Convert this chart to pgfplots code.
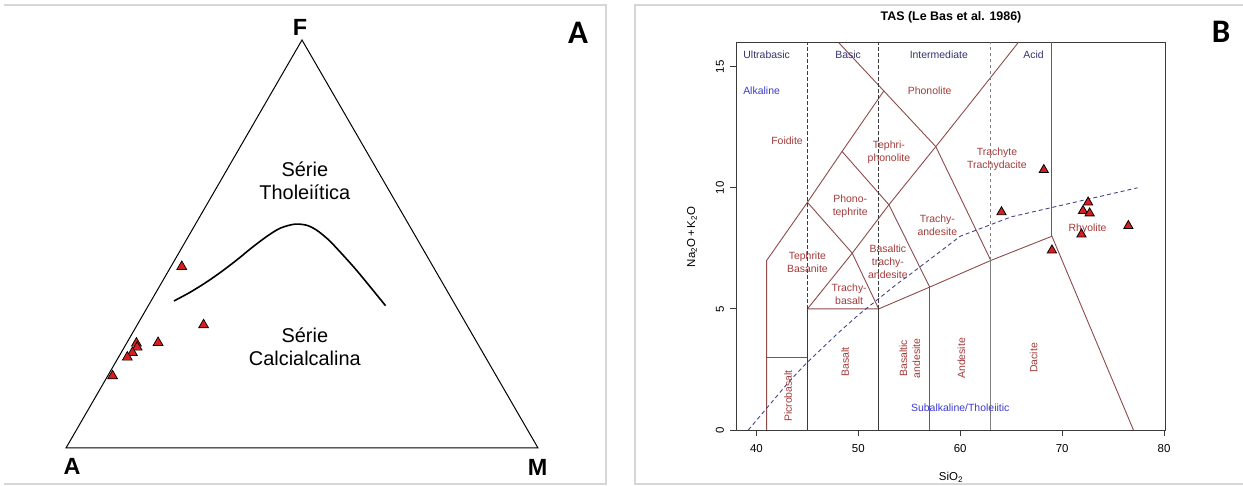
\documentclass[border=0pt]{standalone}
\usepackage{fontspec}
\setmainfont{Liberation Sans}
\newfontfamily\panelfont{Carlito}
\usepackage{pgfplots}
\usepackage{pgfplotstable}
\pgfplotsset{compat=1.18}
\definecolor{framegray}{HTML}{D6D6D6}
\definecolor{fieldline}{HTML}{8E4B4B}
\definecolor{fieldtext}{HTML}{A33B3B}
\definecolor{grouptext}{HTML}{34346E}
\definecolor{alkblue}{HTML}{3B3BD0}
\definecolor{alkdash}{HTML}{44448C}
\definecolor{boxgray}{HTML}{3A3A3A}
\definecolor{markred}{HTML}{D81E1E}
\newcommand\fs{\fontsize{10.5}{13}\selectfont}

% AFM diagram, Cartesian position in the triangle A(0,0) M(100,0) F(50,86.6)
\pgfplotstableread{
x y
24.53 38.49
29.15 26.11
14.92 22.23
19.51 22.36
15.08 21.38
14.07 20.23
12.99 19.26
9.87 15.29
}\afmdata
\pgfplotstableread{
x y
22.86 31.2
26.2 33.0
29.6 35.1
32.9 37.4
36.3 40.0
39.6 42.7
42.96 45.2
45.5 46.7
48.4 47.5
50.9 47.3
53.0 46.3
55.5 44.3
58.0 41.7
61.4 37.9
64.7 33.9
67.7 30.2
}\afmcurve
% TAS samples
\pgfplotstableread{
x y
68.2 10.74
64.05 9.0
72.55 9.4
72.05 9.05
72.7 8.95
76.5 8.43
71.9 8.08
69.0 7.42
}\tasdata
\pgfplotstableread{
x y
39.2 0
40 0.4
43.2 2
45 2.8
48 4
50 4.75
53.7 6
55 6.4
60 8
65 8.8
77.4 10
}\alkdata

\begin{document}
\begin{tikzpicture}[x=1bp,y=1bp]
\fill[white] (0,0) rectangle (1243,486);
\draw[framegray, line width=1.4bp] (4,481) -- (606,481) -- (606,2) -- (4,2);
\draw[framegray, line width=1.4bp] (1243,481) -- (635,481) -- (635,2) -- (1243,2);

% ---------------- Panel A ----------------
\begin{axis}[at={(66bp,38bp)}, anchor=south west, scale only axis, width=472bp, height=408bp,
  xmin=0, xmax=100, ymin=0, ymax=86.6, axis lines=none, clip=false]
\addplot[black, line width=1bp] coordinates {(50,0) (100,0) (50,86.6) (0,0) (50,0)};
\addplot[black, line width=1.6bp, smooth] table {\afmcurve};
\addplot[only marks, mark=triangle*, mark size=5.7bp, mark options={fill=markred, draw=black, line width=0.7bp}] table {\afmdata};
\node[font=\fontsize{20}{23}\selectfont, align=center] at (axis cs:50.6,56.8) {Série\\Tholeiítica};
\node[font=\fontsize{20}{23}\selectfont, align=center] at (axis cs:50.6,21.5) {Série\\Calcialcalina};
\node[font=\fontsize{23.5}{26}\selectfont\bfseries] at (axis cs:49.6,89.2) {F};
\node[font=\fontsize{23.5}{26}\selectfont\bfseries] at (axis cs:1.3,-4.0) {A};
\node[font=\fontsize{23.5}{26}\selectfont\bfseries] at (axis cs:99.9,-4.2) {M};
\end{axis}
\node[font=\panelfont\fontsize{33}{35}\selectfont\bfseries] at (578,453) {A};

% ---------------- Panel B ----------------
\begin{axis}[at={(736.5bp,56bp)}, anchor=south west, scale only axis, width=428.5bp, height=387.5bp,
  xmin=38.04, xmax=80.1, ymin=0, ymax=16,
  axis line style={boxgray, line width=0.8bp},
  tick align=outside, major tick length=6.5bp,
  xtick={40,50,60,70,80}, ytick={0,5,10,15},
  xtick pos=left, ytick pos=left,
  tick style={boxgray, line width=0.8bp},
  tick label style={font=\fontsize{11.5}{13}\selectfont},
  xticklabel style={yshift=-4bp},
  yticklabel style={rotate=90, anchor=south, yshift=2.5bp},
  /pgf/number format/assume math mode=true,
  clip=false]
% field boundaries
\addplot[fieldline, line width=0.9bp] coordinates {(41,0) (41,7) (45,9.4) (48.4,11.5) (52.5,14)};
\addplot[fieldline, line width=0.9bp] coordinates {(48.06,16) (52.5,14) (57.6,11.7) (63,7) (69,8) (77,0)};
\addplot[fieldline, line width=1.4bp] coordinates {(41,3) (45,3)};
\addplot[fieldline, line width=0.9bp] coordinates {(45,5) (52,5) (57,5.9) (63,7)};
\addplot[fieldline, line width=0.9bp] coordinates {(45,5) (49.4,7.3) (53,9.3) (57.6,11.7) (61,13.5) (65.7,16)};
\addplot[fieldline, line width=0.9bp] coordinates {(45,9.4) (49.4,7.3) (52,5)};
\addplot[fieldline, line width=0.9bp] coordinates {(48.4,11.5) (53,9.3) (57,5.9)};
\addplot[fieldline, line width=0.9bp] coordinates {(57,0) (57,5.9)};
\addplot[fieldline, line width=0.9bp] coordinates {(69,8) (69,16)};
% group boundaries
\addplot[boxgray, line width=0.9bp] coordinates {(45,0) (45,5)};
\addplot[boxgray, line width=0.9bp] coordinates {(52,0) (52,5)};
\addplot[gray, line width=1.3bp] coordinates {(63,0) (63,7)};
\addplot[boxgray, line width=0.9bp, dash pattern=on 3.5bp off 2.5bp] coordinates {(45,5) (45,16)};
\addplot[boxgray, line width=0.9bp, dash pattern=on 3.5bp off 2.5bp] coordinates {(52,5) (52,16)};
\addplot[gray, line width=1bp, dash pattern=on 3.5bp off 2.5bp] coordinates {(63,7) (63,16)};
% alkaline / subalkaline divide
\addplot[alkdash, line width=0.9bp, dash pattern=on 4bp off 3bp] table {\alkdata};
% samples
\addplot[only marks, mark=triangle*, mark size=5.3bp, mark options={fill=markred, draw=black, line width=0.8bp}] table {\tasdata};
% labels
\node[grouptext, font=\fs] at (axis cs:41.0,15.5) {Ultrabasic};
\node[grouptext, font=\fs] at (axis cs:49.0,15.5) {Basic};
\node[grouptext, font=\fs] at (axis cs:57.9,15.5) {Intermediate};
\node[grouptext, font=\fs] at (axis cs:67.2,15.5) {Acid};
\node[alkblue, font=\fs] at (axis cs:40.5,14.0) {Alkaline};
\node[alkblue, font=\fs] at (axis cs:60.0,0.92) {Subalkaline/Tholeiitic};
\node[fieldtext, font=\fs] at (axis cs:57.0,14.0) {Phonolite};
\node[fieldtext, font=\fs] at (axis cs:43.0,11.95) {Foidite};
\node[fieldtext, font=\fs, align=center] at (axis cs:53.0,11.47) {Tephri-\\phonolite};
\node[fieldtext, font=\fs, align=center] at (axis cs:63.6,11.17) {Trachyte\\Trachydacite};
\node[fieldtext, font=\fs, align=center] at (axis cs:49.2,9.24) {Phono-\\tephrite};
\node[fieldtext, font=\fs, align=center] at (axis cs:57.75,8.45) {Trachy-\\andesite};
\node[fieldtext, font=\fs, align=center] at (axis cs:45.0,6.94) {Tephrite\\Basanite};
\node[fieldtext, font=\fs, align=center] at (axis cs:52.9,6.94) {Basaltic\\trachy-\\andesite};
\node[fieldtext, font=\fs, align=center] at (axis cs:49.1,5.61) {Trachy-\\basalt};
\node[fieldtext, font=\fs] at (axis cs:72.5,8.3) {Rhyolite};
\node[fieldtext, font=\fs, rotate=90] at (axis cs:43.1,1.4) {Picrobasalt};
\node[fieldtext, font=\fs, rotate=90] at (axis cs:48.7,2.8) {Basalt};
\node[fieldtext, font=\fs, rotate=90, align=center] at (axis cs:55.05,2.96) {Basaltic\\andesite};
\node[fieldtext, font=\fs, rotate=90] at (axis cs:60.1,2.96) {Andesite};
\node[fieldtext, font=\fs, rotate=90] at (axis cs:67.2,2.98) {Dacite};
\end{axis}
\node[font=\fontsize{12.5}{14}\selectfont\bfseries] at (951,469) {TAS (Le Bas et al. 1986)};
\node[font=\fontsize{11.5}{13}\selectfont] at (951,9) {SiO\textsubscript{2}};
\node[font=\fontsize{11.5}{13}\selectfont, rotate=90] at (692,249) {Na\textsubscript{2}O\,+\,K\textsubscript{2}O};
\node[font=\panelfont\fontsize{33}{35}\selectfont\bfseries] at (1221,454) {B};
\pgfresetboundingbox
\path[use as bounding box] (0,0) rectangle (1243,486);
\end{tikzpicture}
\end{document}
